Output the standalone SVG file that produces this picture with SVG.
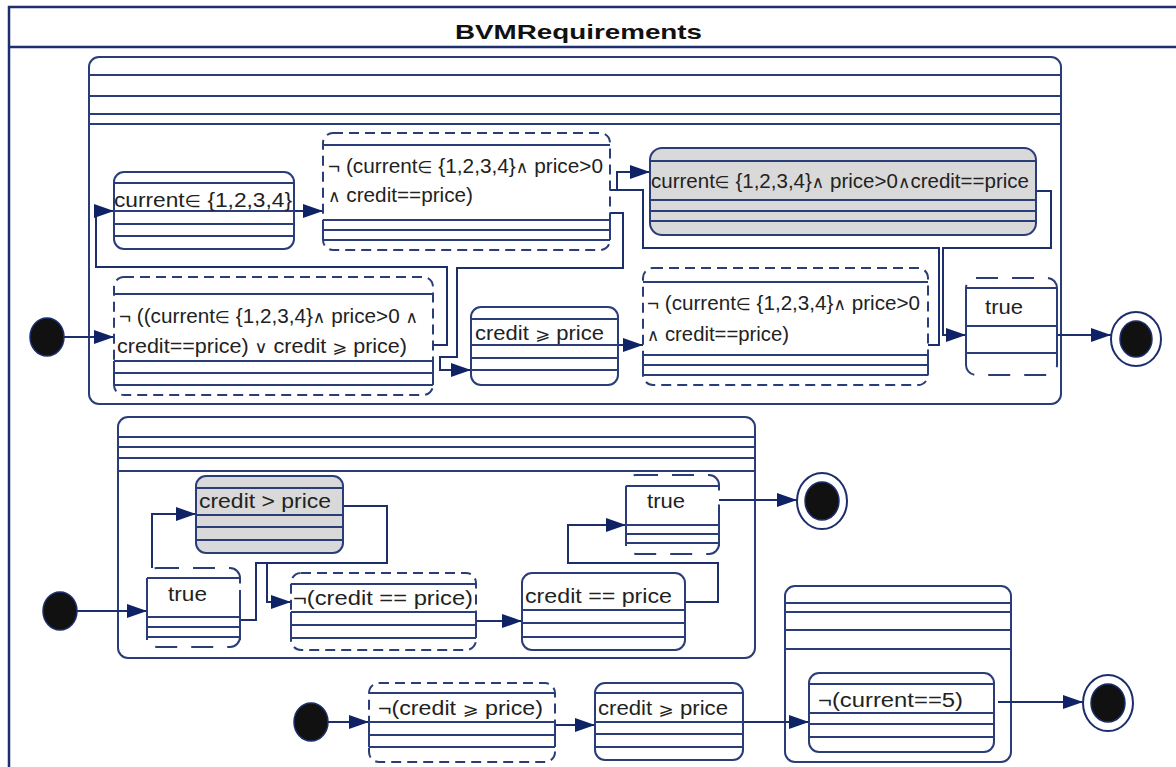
<svg xmlns="http://www.w3.org/2000/svg" width="1176" height="767" viewBox="0 0 1176 767">
<style>
.fr{fill:none;stroke:#1c2e6c;stroke-width:2.5}
.cp{fill:#fff;stroke:#2a3d78;stroke-width:2}
.b{fill:#fff;stroke:#2a3d78;stroke-width:2}
.g{fill:#d9d9d9;stroke:#2a3d78;stroke-width:2}
.d{fill:#fff;stroke:#2a3d78;stroke-width:2;stroke-dasharray:10 6}
.dl{fill:#fff;stroke:#2a3d78;stroke-width:2;stroke-dasharray:22 14}
.l{fill:none;stroke:#2a3d78;stroke-width:2}
.c{fill:none;stroke:#1c2e6c;stroke-width:2;marker-end:url(#ah)}
.cn{fill:none;stroke:#1c2e6c;stroke-width:2}
.t{font-family:"Liberation Sans","DejaVu Sans",sans-serif;font-size:20.5px;fill:#222}
.s{font-size:17px}
.ti{font-family:"Liberation Sans","DejaVu Sans",sans-serif;font-size:21px;font-weight:bold;fill:#111}
.dot{fill:#111;stroke:#1c2e6c;stroke-width:1.5}
.ring{fill:#fff;stroke:#1c2e6c;stroke-width:2}
</style>
<defs>
<marker id="ah" viewBox="0 0 20 14" refX="20" refY="7" markerWidth="20" markerHeight="14" markerUnits="userSpaceOnUse" orient="auto">
<path d="M0,0 L20,7 L0,14 z" fill="#0f2266"/>
</marker>
</defs>
<rect width="1176" height="767" fill="#fff"/>
<g id="frame">
<path class="fr" d="M9,767 V7 H1176"/>
<path class="fr" d="M9,47 H1176"/>
<text class="ti" x="455" y="39" textLength="247" lengthAdjust="spacingAndGlyphs">BVMRequirements</text>
</g>
<g id="composite1">
<rect class="cp" x="89" y="57" width="972" height="347" rx="10"/>
<path class="l" d="M89,75 H1061 M89,96 H1061 M89,114 H1061 M89,124 H1061"/>
</g>
<g id="composite2">
<rect class="cp" x="118" y="417" width="637" height="241" rx="10"/>
<path class="l" d="M118,437 H755 M118,447 H755 M118,458 H755 M118,471 H755"/>
</g>
<g id="composite3">
<rect class="cp" x="785" y="586" width="226" height="176" rx="10"/>
<path class="l" d="M785,603 H1011 M785,612 H1011 M785,630 H1011 M785,649 H1011"/>
</g>
<g id="connectors">
<path class="c" d="M64,337 H114"/>
<path class="c" d="M294,211 H323"/>
<path class="c" d="M433,345 H447 V267 H96 V211 H114"/>
<path class="c" d="M610,213 H623 V268 H457 V357 H440 V370 H471"/>
<path class="cn" d="M610,190 H617"/>
<path class="c" d="M928,345 H939 V248 H643 V190 H617 V172 H650"/>
<path class="c" d="M1036,191 H1051 V248 H943 V335 H966"/>
<path class="c" d="M618,345 H643"/>
<path class="c" d="M1046,335 H1111"/>
<path class="c" d="M77,611 H147"/>
<path class="c" d="M152,568 V514 H196"/>
<path class="cn" d="M343,506 H387 V563 H256 V620 H240"/>
<path class="c" d="M267,563 V602 H291"/>
<path class="c" d="M476,621 H522"/>
<path class="c" d="M685,602 H718 V563 H568 V525 H626"/>
<path class="c" d="M718,500 H797"/>
<path class="c" d="M328,722 H369"/>
<path class="c" d="M555,725 H595"/>
<path class="c" d="M743,722 H809"/>
<path class="c" d="M998,702 H1083"/>
</g>
<g id="init1"><ellipse class="dot" cx="47" cy="337" rx="17" ry="19"/></g>
<g id="init2"><ellipse class="dot" cx="60" cy="611" rx="17" ry="19"/></g>
<g id="init3"><ellipse class="dot" cx="311" cy="722" rx="17" ry="19"/></g>
<g id="final1"><ellipse class="ring" cx="1136" cy="339" rx="25" ry="27"/><ellipse class="dot" cx="1136" cy="339" rx="16" ry="18"/></g>
<g id="final2"><ellipse class="ring" cx="822" cy="501" rx="25" ry="28"/><ellipse class="dot" cx="822" cy="501" rx="17" ry="19"/></g>
<g id="final3"><ellipse class="ring" cx="1108" cy="703" rx="25" ry="28"/><ellipse class="dot" cx="1108" cy="703" rx="17" ry="19"/></g>
<g id="stateA">
<rect class="b" x="114" y="172" width="180" height="77" rx="10"/>
<path class="l" d="M114,183 H294 M114,211 H294 M114,224 H294 M114,236 H294"/>
<text class="t" x="114" y="207" textLength="178" lengthAdjust="spacingAndGlyphs">current<tspan class="s">∈</tspan> {1,2,3,4}</text>
</g>
<g id="stateB">
<rect class="d" x="323" y="133" width="287" height="117" rx="10"/>
<path class="l" d="M323,145 H610 M323,220 H610 M323,230 H610 M323,240 H610 M323,220 V240 M610,220 V240"/>
<text class="t" x="328" y="173" textLength="275" lengthAdjust="spacingAndGlyphs">¬ (current<tspan class="s">∈</tspan> {1,2,3,4}<tspan class="s">∧</tspan> price&gt;0</text>
<text class="t" x="328" y="202" textLength="145" lengthAdjust="spacingAndGlyphs"><tspan class="s">∧</tspan> credit==price)</text>
</g>
<g id="stateC">
<rect class="g" x="650" y="148" width="386" height="87" rx="12"/>
<path class="l" d="M650,161 H1036 M650,200 H1036 M650,211 H1036 M650,221 H1036"/>
<text class="t" x="651" y="188" textLength="378" lengthAdjust="spacingAndGlyphs">current<tspan class="s">∈</tspan> {1,2,3,4}<tspan class="s">∧</tspan> price&gt;0<tspan class="s">∧</tspan>credit==price</text>
</g>
<g id="stateD">
<rect class="d" x="114" y="277" width="319" height="118" rx="10"/>
<path class="l" d="M114,294 H433 M114,361 H433 M114,373 H433 M114,385 H433 M114,361 V385 M433,361 V385"/>
<text class="t" x="119" y="323" textLength="299" lengthAdjust="spacingAndGlyphs">¬ ((current<tspan class="s">∈</tspan> {1,2,3,4}<tspan class="s">∧</tspan> price&gt;0 <tspan class="s">∧</tspan></text>
<text class="t" x="117" y="353" textLength="290" lengthAdjust="spacingAndGlyphs">credit==price) <tspan class="s">∨</tspan> credit <tspan class="s">⩾</tspan> price)</text>
</g>
<g id="stateE">
<rect class="b" x="471" y="307" width="147" height="78" rx="10"/>
<path class="l" d="M471,319 H618 M471,345 H618 M471,358 H618 M471,370 H618"/>
<text class="t" x="475" y="340" textLength="129" lengthAdjust="spacingAndGlyphs">credit <tspan class="s">⩾</tspan> price</text>
</g>
<g id="stateF">
<rect class="d" x="643" y="268" width="285" height="117" rx="10"/>
<path class="l" d="M643,282 H928 M643,355 H928 M643,365 H928 M643,375 H928 M643,355 V375 M928,355 V375"/>
<text class="t" x="647" y="310" textLength="273" lengthAdjust="spacingAndGlyphs">¬ (current<tspan class="s">∈</tspan> {1,2,3,4}<tspan class="s">∧</tspan> price&gt;0</text>
<text class="t" x="647" y="341" textLength="142" lengthAdjust="spacingAndGlyphs"><tspan class="s">∧</tspan> credit==price)</text>
</g>
<g id="stateG">
<rect class="dl" x="966" y="278" width="91" height="97" rx="10"/>
<path class="l" d="M966,288 H1057 M966,326 H1057 M966,353 H1057 M966,288 V365 M1057,288 V365"/>
<text class="t" x="985" y="314" textLength="38" lengthAdjust="spacingAndGlyphs">true</text>
</g>
<g id="stateH">
<rect class="g" x="196" y="476" width="147" height="77" rx="10"/>
<path class="l" d="M196,488 H343 M196,515 H343 M196,527 H343 M196,540 H343"/>
<text class="t" x="199" y="508" textLength="132" lengthAdjust="spacingAndGlyphs">credit &gt; price</text>
</g>
<g id="stateI">
<rect class="dl" x="147" y="568" width="93" height="79" rx="10"/>
<path class="l" d="M147,578 H240 M147,617 H240 M147,627 H240 M147,637 H240 M147,578 V640 M240,590 V640"/>
<text class="t" x="168" y="601" textLength="39" lengthAdjust="spacingAndGlyphs">true</text>
</g>
<g id="stateJ">
<rect class="d" x="291" y="573" width="185" height="77" rx="10"/>
<path class="l" d="M291,584 H476 M291,612 H476 M291,625 H476 M291,638 H476 M291,612 V638 M476,612 V638"/>
<text class="t" x="293" y="605" textLength="180" lengthAdjust="spacingAndGlyphs">¬(credit == price)</text>
</g>
<g id="stateK">
<rect class="b" x="522" y="573" width="163" height="77" rx="10"/>
<path class="l" d="M522,610 H685 M522,623 H685 M522,637 H685"/>
<text class="t" x="525" y="603" textLength="147" lengthAdjust="spacingAndGlyphs">credit == price</text>
</g>
<g id="stateL">
<rect class="dl" x="626" y="475" width="93" height="79" rx="10"/>
<path class="l" d="M626,486 H719 M626,525 H719 M626,534 H719 M626,543 H719 M626,486 V546 M719,520 V546"/>
<text class="t" x="647" y="508" textLength="38" lengthAdjust="spacingAndGlyphs">true</text>
</g>
<g id="stateM">
<rect class="d" x="369" y="683" width="186" height="79" rx="10"/>
<path class="l" d="M369,693 H555 M369,722 H555 M369,735 H555 M369,747 H555 M369,722 V747 M555,722 V747"/>
<text class="t" x="378" y="715" textLength="165" lengthAdjust="spacingAndGlyphs">¬(credit <tspan class="s">⩾</tspan> price)</text>
</g>
<g id="stateN">
<rect class="b" x="595" y="683" width="148" height="77" rx="10"/>
<path class="l" d="M595,693 H743 M595,722 H743 M595,734 H743 M595,747 H743"/>
<text class="t" x="598" y="715" textLength="130" lengthAdjust="spacingAndGlyphs">credit <tspan class="s">⩾</tspan> price</text>
</g>
<g id="stateO">
<rect class="b" x="809" y="673" width="185" height="79" rx="10"/>
<path class="l" d="M809,684 H994 M809,713 H994 M809,724 H994 M809,737 H994"/>
<text class="t" x="818" y="707" textLength="145" lengthAdjust="spacingAndGlyphs">¬(current==5)</text>
</g>
</svg>
